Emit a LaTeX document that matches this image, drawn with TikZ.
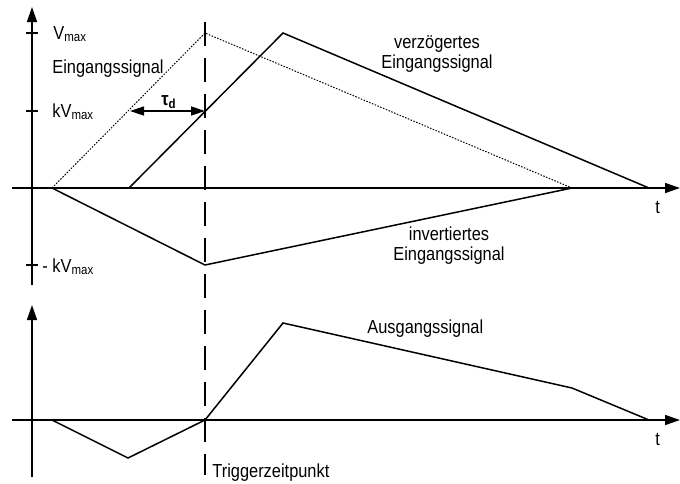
\documentclass[tikz,border=0pt]{standalone}
\usepackage{fontspec}
\usepackage{graphicx}
\setmainfont{Liberation Sans}
\usetikzlibrary{arrows.meta}

\newcommand{\tallt}[1]{\scalebox{1}[1.15]{#1}}

\tikzset{
  axis/.style={line width=0.75pt, -{Triangle[length=7.5pt, width=5pt]}},
  signal/.style={line width=0.75pt, line join=miter},
  input/.style={line width=0.5pt, dash pattern=on 0.75pt off 0.75pt},
  trigger/.style={line width=0.75pt, dash pattern=on 12pt off 6pt},
  label/.style={anchor=base west, inner sep=0pt},
  clabel/.style={anchor=base, inner sep=0pt}
}

\begin{document}
\begin{tikzpicture}[x=0.5pt, y=-0.5pt, font=\fontsize{8.2}{9.8}\selectfont]
        \useasboundingbox (0,0) rectangle (680,483);
        % axes of the upper plot
        \draw[axis] (32,285) -- (32,7);
        \draw[axis] (12,188) -- (680,188);
        \draw[line width=0.75pt] (26,33) -- (38,33);
        \draw[line width=0.75pt] (26,111) -- (38,111);
        \draw[line width=0.75pt] (26,265) -- (38,265);
        % axes of the lower plot
        \draw[axis] (32,477) -- (32,305);
        \draw[axis] (12,420) -- (680,420);
        % key points
        \coordinate (start) at (52,188);
        \coordinate (peak) at (205,33);
        \coordinate (inend) at (572,188);
        \coordinate (dstart) at (129,188);
        \coordinate (dpeak) at (283,33);
        \coordinate (dend) at (649,188);
        \coordinate (ipeak) at (205,265);
        \coordinate (tauL) at (130,111);
        \coordinate (tauR) at (205,111);
        % signals, upper plot
        \draw[input] (start) -- (peak) -- (inend);
        \draw[signal] (dstart) -- (dpeak) -- (dend);
        \draw[signal] (start) -- (ipeak) -- (inend);
        \draw[line width=0.75pt, {Triangle[length=7pt, width=4.5pt]}-{Triangle[length=7pt, width=4.5pt]}]
              (tauL) -- (tauR);
        \node[clabel] (tau) at (169,105) {\tallt{\textbf{τ\textsubscript{d}}}};
        % output signal, lower plot
        \coordinate (ostart) at (52,420);
        \coordinate (omin) at (128,458);
        \coordinate (ozero) at (205,420);
        \coordinate (opeak) at (283,323);
        \coordinate (oknee) at (572,388);
        \coordinate (oend) at (649,420);
        \draw[signal] (ostart) -- (omin) -- (ozero) -- (opeak) -- (oknee) -- (oend);
        % trigger instant
        \draw[trigger] (205,22) -- (205,475);
        % texts
        \node[label] (vmax) at (53,39) {\tallt{V\textsubscript{max}}};
        \node[label] (ein) at (52,73) {\tallt{Eingangssignal}};
        \node[label] (kvmax) at (52,117) {\tallt{kV\textsubscript{max}}};
        \node[label] (mkvmax) at (42,272) {\tallt{- kV\textsubscript{max}}};
        \node[clabel] (verz1) at (437,48) {\tallt{verzögertes}};
        \node[clabel] (verz2) at (437,68) {\tallt{Eingangssignal}};
        \node[clabel] (inv1) at (449,240) {\tallt{invertiertes}};
        \node[clabel] (inv2) at (449,260) {\tallt{Eingangssignal}};
        \node[label] (t1) at (655,213) {\tallt{t}};
        \node[label] (aus) at (367,333) {\tallt{Ausgangssignal}};
        \node[label] (t2) at (655,445) {\tallt{t}};
        \node[label] (trig) at (212,477) {\tallt{Triggerzeitpunkt}};
      \end{tikzpicture}
\end{document}
